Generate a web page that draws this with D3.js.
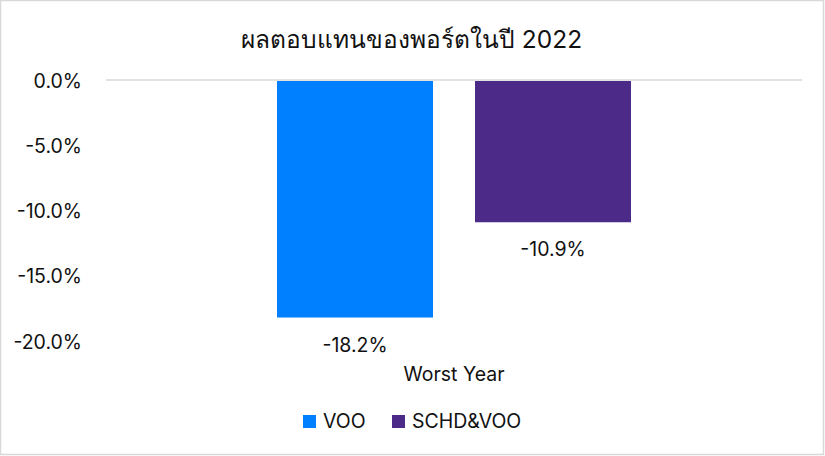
<!DOCTYPE html>
<html>
<head>
<meta charset="utf-8">
<script src="https://cdn.jsdelivr.net/npm/d3@7"></script>
<style>
  body { margin: 0; background: #fff; }
  svg text { font-family: 'Inter', 'Noto Sans', 'DejaVu Sans', sans-serif; fill: #111; }
</style>
</head>
<body>
<svg id="chart"></svg>
<script>
const title = 'ผลตอบแทนของพอร์ตในปี 2022';
const categories = ['Worst Year'];
const seriesNames = ['VOO', 'SCHD&VOO'];
const seriesValues = [-18.2, -10.9];
const seriesColors = ['#0080ff', '#4b2a88'];
const yTicks = [0, -5, -10, -15, -20];

const width = 825;
const height = 456;
const plot = { left: 106, right: 802, top: 80, bottom: 341 };

// hyphen instead of the unicode minus d3 puts in
const pct = v => d3.format('.1f')(v).replace('−', '-') + '%';

const svg = d3.select('#chart')
  .attr('width', width)
  .attr('height', height);

// outer frame
svg.append('rect')
  .attr('x', 0.5)
  .attr('y', 0.5)
  .attr('width', width - 2)
  .attr('height', height - 2)
  .attr('fill', '#fff')
  .attr('stroke', '#d9d9d9')
  .attr('stroke-width', 1.5);

svg.append('text')
  .attr('x', width / 2 - 1)
  .attr('y', 48)
  .attr('text-anchor', 'middle')
  .attr('font-size', '24.5px')
  .text(title);

const y = d3.scaleLinear()
  .domain([0, -20])
  .range([plot.top, plot.bottom]);

const x0 = d3.scaleBand()
  .domain(categories)
  .range([plot.left, plot.right]);

// two bars of 156px with 42px gap in a 696px band
const x1 = d3.scaleBand()
  .domain(seriesNames)
  .range([0, 354])
  .paddingInner(42 / 198);

const groupOffset = (x0.bandwidth() - 354) / 2;

// y axis labels, no line
const yAxis = svg.append('g')
  .attr('transform', `translate(${plot.left - 21},0)`)
  .call(d3.axisLeft(y).tickValues(yTicks).tickSize(0).tickFormat(pct));
yAxis.select('.domain').remove();
yAxis.selectAll('text')
  .attr('font-size', '19.5px')
  .attr('dy', '0.36em')
  .style('font-family', "'Inter', 'Noto Sans', sans-serif")
  .attr('fill', '#111');

// zero line
svg.append('line')
  .attr('x1', plot.left)
  .attr('x2', plot.right)
  .attr('y1', y(0))
  .attr('y2', y(0))
  .attr('stroke', '#d9d9d9')
  .attr('stroke-width', 1.5);

const group = svg.append('g')
  .attr('transform', `translate(${x0(categories[0]) + groupOffset},0)`);

const rows = seriesNames.map((name, i) => ({ name: name, value: seriesValues[i], color: seriesColors[i] }));

group.selectAll('rect.bar')
  .data(rows)
  .enter()
  .append('rect')
  .attr('class', 'bar')
  .attr('x', d => x1(d.name))
  .attr('y', y(0) + 1)
  .attr('width', x1.bandwidth())
  .attr('height', d => y(d.value) - y(0) - 1)
  .attr('fill', d => d.color);

group.selectAll('text.label')
  .data(rows)
  .enter()
  .append('text')
  .attr('class', 'label')
  .attr('x', d => x1(d.name) + x1.bandwidth() / 2)
  .attr('y', d => y(d.value) + 34)
  .attr('text-anchor', 'middle')
  .attr('font-size', '19.5px')
  .text(d => pct(d.value));

svg.selectAll('text.category')
  .data(categories)
  .enter()
  .append('text')
  .attr('class', 'category')
  .attr('x', d => x0(d) + x0.bandwidth() / 2)
  .attr('y', 381)
  .attr('text-anchor', 'middle')
  .attr('font-size', '19.5px')
  .text(d => d);

// legend
const legendX = [303, 392];
const legend = svg.selectAll('g.legend')
  .data(rows)
  .enter()
  .append('g')
  .attr('class', 'legend')
  .attr('transform', (d, i) => `translate(${legendX[i]},415)`);

legend.append('rect')
  .attr('width', 13)
  .attr('height', 13)
  .attr('fill', d => d.color);

legend.append('text')
  .attr('x', 20)
  .attr('y', 13)
  .attr('font-size', '19.5px')
  .text(d => d.name);
</script>
</body>
</html>
